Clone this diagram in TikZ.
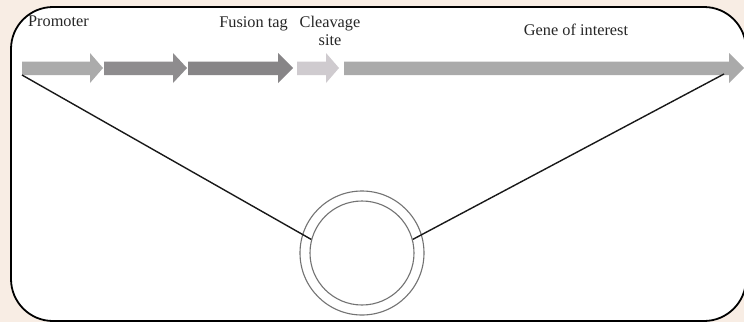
\documentclass[tikz,border=0pt]{standalone}
\usepackage{fontspec}
\setmainfont{Liberation Serif}
\definecolor{pagebg}{HTML}{F8EDE4}
\definecolor{aone}{HTML}{ABABAB}
\definecolor{atwo}{HTML}{8E8C8E}
\definecolor{athree}{HTML}{878587}
\definecolor{afour}{HTML}{CFCBCF}
\definecolor{afive}{HTML}{AAAAAA}
\definecolor{labelc}{HTML}{262626}
\tikzset{
  genearrow/.style={fill=#1, draw=none},
  lbl/.style={anchor=base, inner sep=0pt, text=labelc, font=\fontsize{16.3}{18}\selectfont},
  ring/.style={circle, draw=black!55, line width=1.1pt, inner sep=0pt, fill=none},
  link/.style={draw=black!90, line width=1.4pt},
}
% #1 color, #2 start x, #3 head start x, #4 tip x
\newcommand{\dnaarrow}[4]{%
  \fill[genearrow=#1] (#2,61.5) -- (#3,61.5) -- (#3,53) -- (#4,68) -- (#3,83) -- (#3,75) -- (#2,75) -- cycle;}
\begin{document}
\begin{tikzpicture}[x=1pt,y=-1pt]
\useasboundingbox (0,0) rectangle (744,322);
\fill[pagebg] (0,0) rectangle (744,322);
\draw[line width=1.8pt, fill=white, rounded corners=42pt] (11,7) rectangle (746,321);
% gene arrows
\dnaarrow{aone}{22}{90}{103}
\dnaarrow{atwo}{104}{173}{187}
\dnaarrow{athree}{188}{278}{293}
\dnaarrow{afour}{297}{326}{339}
\dnaarrow{afive}{344}{729}{744}
\coordinate (promstart) at (22,75);
\coordinate (geneend) at (724,74);
% labels
\node[lbl] (promoter) at (58.5,26) {Promoter};
\node[lbl] (fusion) at (253.5,27) {Fusion tag};
\node[lbl] (cleavage) at (330,27) {Cleavage};
\node[lbl] (site) at (330,45) {site};
\node[lbl] (goi) at (576,35) {Gene of interest};
% plasmid
\node[ring, minimum size=124pt] (outer) at (362,253) {};
\node[ring, minimum size=104pt] (inner) at (362,253) {};
\draw[link] (promstart) -- (inner.165);
\draw[link] (geneend) -- (inner.15);
\end{tikzpicture}
\end{document}
